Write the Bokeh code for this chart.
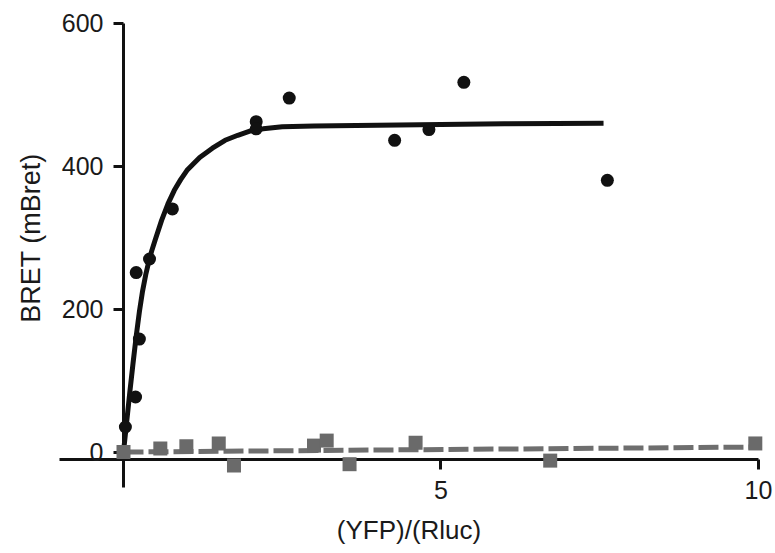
from bokeh.plotting import figure
from bokeh.models import LinearAxis, FixedTicker, Range1d
from bokeh.embed import file_html
from bokeh.resources import INLINE

# BRET saturation data (black circles)
bret_x = [0.03, 0.19, 0.25, 0.20, 0.41, 0.77, 2.09, 2.09, 2.61, 4.27, 4.81, 5.36, 7.62]
bret_y = [35, 77, 158, 251, 270, 340, 462, 452, 495, 436, 451, 517, 380]

# fitted saturation curve
fit_x = [0, 0.05, 0.1, 0.15, 0.2, 0.25, 0.3, 0.35, 0.4, 0.45, 0.5, 0.6, 0.7, 0.8, 0.9, 1.0,
         1.2, 1.4, 1.6, 1.8, 2.0, 2.2, 2.5, 3.0, 4.0, 5.0, 6.0, 7.56]
fit_y = [0, 42, 84, 124, 162, 196, 225, 248, 267, 283, 297, 324, 347, 366, 381, 394,
         412, 425, 436, 443, 449, 452, 455, 456, 457, 458, 459, 460]

# control (gray squares)
ctrl_x = [0.0, 0.58, 0.99, 1.5, 1.74, 3.0, 3.2, 3.56, 4.6, 6.72, 9.95]
ctrl_y = [0, 5, 8, 12, -19, 9, 16, -17, 13, -12, 12]

# control linear fit (dashed)
ctrl_fit_x = [0, 10]
ctrl_fit_y = [0, 7]

x_ticks = [5, 10]
y_ticks = [0, 200, 400, 600]

FONT = "Liberation Sans"
TXT = "#1a1a1a"
AX = "#111111"

p = figure(width=775, height=553, output_backend="svg", toolbar_location=None,
           x_range=Range1d(-1.937, 10.268), y_range=Range1d(-141.9, 631.5),
           x_axis_type=None, y_axis_type=None, min_border=0)
p.outline_line_color = None
p.background_fill_color = "white"


def style(ax):
    ax.axis_line_width = 3
    ax.axis_line_color = AX
    ax.major_tick_line_width = 3
    ax.major_tick_line_color = AX
    ax.major_tick_in = 0
    ax.major_tick_out = 10
    ax.minor_tick_line_color = None
    ax.major_label_text_font = FONT
    ax.major_label_text_font_size = "25px"
    ax.major_label_text_color = TXT
    ax.axis_label_text_font = FONT
    ax.axis_label_text_font_style = "normal"
    ax.axis_label_text_color = TXT
    ax.level = "underlay"


# x axis
xaxis = LinearAxis(fixed_location=-10, bounds=(-1, 10), ticker=FixedTicker(ticks=x_ticks),
                   axis_label="(YFP)/(Rluc)")
style(xaxis)
xaxis.axis_label_text_font_size = "26px"
xaxis.major_label_standoff = 12
xaxis.axis_label_standoff = 12
p.add_layout(xaxis, "below")

# y axis line + ticks (extends below the x axis)
yline = LinearAxis(fixed_location=0, bounds=(-50, 600), ticker=FixedTicker(ticks=y_ticks))
style(yline)
yline.major_label_text_color = None
p.add_layout(yline, "left")

# y tick labels + axis title (centred on 0..600)
ylab = LinearAxis(fixed_location=0, bounds=(0, 600), ticker=FixedTicker(ticks=y_ticks),
                  axis_label="BRET (mBret)")
style(ylab)
ylab.axis_line_color = None
ylab.major_tick_line_color = None
ylab.axis_label_text_font_size = "27px"
ylab.major_label_standoff = 10
ylab.axis_label_standoff = 13
p.add_layout(ylab, "left")

p.line(ctrl_fit_x, ctrl_fit_y, line_color="#6e6e6e", line_width=5, line_dash="20 5")
p.line(fit_x, fit_y, line_color="#111111", line_width=5)
p.scatter(ctrl_x, ctrl_y, marker="square", size=14, fill_color="#6a6a6a", line_color=None)
p.scatter(bret_x, bret_y, marker="circle", size=13, fill_color="#111111", line_color=None)

open("out.html", "w").write(file_html(p, INLINE))
